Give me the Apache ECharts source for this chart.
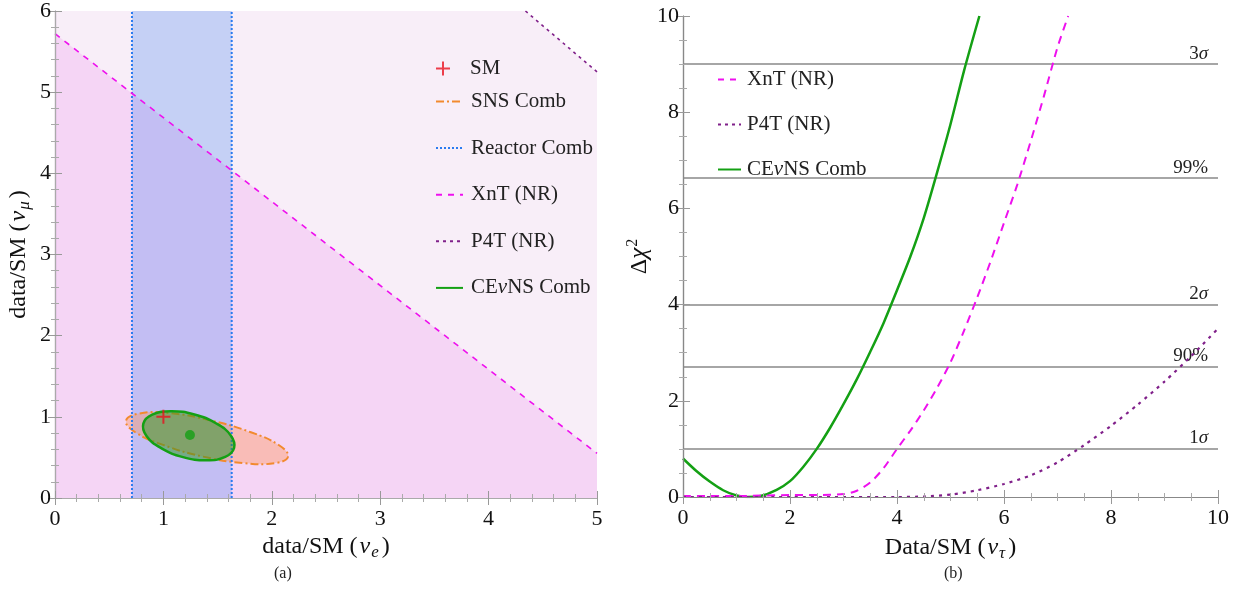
<!DOCTYPE html>
<html>
<head>
<meta charset="utf-8">
<title>CEvNS flavour fits</title>
<script src="https://cdn.jsdelivr.net/npm/echarts@6/dist/echarts.min.js"></script>
<style>
  html, body { margin: 0; padding: 0; background: #fff; }
  #chart { width: 1245px; height: 601px; }
</style>
</head>
<body>
<div id="chart"></div>
<script>
// panel (a): data/SM (nu_e) vs data/SM (nu_mu)
var reactorBand = [0.71, 1.63]
var xntLeft = [[0, 5.72], [5, 0.55]]
var p4tLeft = [[4.34, 6], [5, 5.25]]
var p4tRegion = [[0, 6], [4.34, 6], [5, 5.25]]
var snsContour = [[2.15, 0.51], [2.03, 0.43], [1.745, 0.43], [1.366, 0.51], [0.997, 0.654], [0.737, 0.813],
  [0.655, 0.951], [0.772, 1.04], [1.06, 1.045], [1.438, 0.955], [1.807, 0.81], [2.067, 0.65]]
var cevnsContour = [[1.652, 0.616], [1.57, 0.506], [1.398, 0.464], [1.181, 0.504], [0.979, 0.615], [0.844, 0.765],
  [0.815, 0.917], [0.897, 1.026], [1.069, 1.068], [1.286, 1.029], [1.488, 0.918], [1.623, 0.768]]
var bestFit = [[1.245, 0.776]]
var smPoint = [[1, 1]]

// panel (b): delta chi^2 vs data/SM (nu_tau)
var cevnsTau = [[0, 0.8], [0.25, 0.54], [0.5, 0.32], [0.75, 0.14], [1, 0.03], [1.2, 0], [1.45, 0.02], [1.75, 0.15],
  [2, 0.33], [2.25, 0.63], [2.5, 1.0], [2.75, 1.44], [3, 1.93], [3.25, 2.45], [3.5, 3.02], [3.75, 3.62], [4, 4.3],
  [4.25, 5.0], [4.5, 5.8], [4.75, 6.75], [5, 7.75], [5.25, 8.85], [5.54, 10]]
var xntTau = [[0, 0.02], [1, 0.02], [2, 0.04], [2.5, 0.04], [3, 0.06], [3.25, 0.13], [3.5, 0.3], [3.75, 0.6],
  [4, 1.0], [4.25, 1.38], [4.5, 1.8], [4.75, 2.27], [5, 2.8], [5.25, 3.45], [5.5, 4.15], [5.75, 4.9], [6, 5.7],
  [6.25, 6.5], [6.5, 7.4], [6.75, 8.35], [7, 9.35], [7.2, 10]]
var p4tTau = [[0, 0], [2, 0], [4, 0], [4.5, 0.01], [5, 0.05], [5.5, 0.14], [6, 0.27], [6.5, 0.45], [7, 0.72],
  [7.5, 1.08], [8, 1.48], [8.5, 1.92], [9, 2.4], [9.5, 2.93], [10, 3.5]]
var clLevels = [1, 2.71, 4, 6.63, 9]
var clLabels = ['1σ', '90%', '2σ', '99%', '3σ']

var serif = 'Liberation Serif'
var rich = {
  i: { fontStyle: 'italic', fontFamily: serif, fontSize: 24, color: '#111', padding: [0, 1, 0, 2] },
  s: { fontStyle: 'italic', fontFamily: serif, fontSize: 17, color: '#111', padding: [11, 3, 0, 0] },
  g: { fontFamily: serif, fontSize: 24, color: '#111' },
  c: { fontStyle: 'italic', fontFamily: serif, fontSize: 25, color: '#111' },
  p: { fontFamily: serif, fontSize: 16, color: '#111', padding: [0, 0, 13, 1] }
}

function contour (points, style) {
  return function (params, api) {
    if (params.dataIndex !== 0) return null
    var pts = points.map(function (p) { return api.coord(p) })
    return { type: 'polygon', shape: { points: pts, smooth: 0.45 }, style: style }
  }
}

function axis (grid, pos, min, max, step, minor, lineColor, extra) {
  var a = {
    gridIndex: grid, type: 'value', position: pos, min: min, max: max, interval: step, z: 10,
    axisLine: { show: true, lineStyle: { color: lineColor, width: 1.2 } },
    axisTick: { inside: true, length: 7, lineStyle: { color: '#999' } },
    minorTick: { show: true, splitNumber: minor, length: 4, lineStyle: { color: '#aaa' } },
    splitLine: { show: false },
    axisLabel: { show: false }
  }
  return Object.assign(a, extra || {})
}

function label (margin) {
  return { show: true, color: '#111', fontFamily: serif, fontSize: 22, margin: margin }
}

var nameStyle = { fontFamily: serif, fontSize: 24, color: '#111', rich: rich }
var legendText = { fontFamily: serif, fontSize: 21, color: '#222', rich: { i: { fontStyle: 'italic', fontFamily: serif, fontSize: 21, color: '#222' } } }

var chart = echarts.init(document.getElementById('chart'))
chart.setOption({
  animation: false,
  grid: [
    { left: 55, top: 11, width: 542, height: 487 },
    { left: 683, top: 16, width: 535, height: 481 }
  ],
  xAxis: [
    axis(0, 'bottom', 0, 5, 1, 5, '#b88ac4', {
      axisLabel: label(10),
      name: 'data/SM ({i|ν}{s|e})', nameLocation: 'middle', nameGap: 16, nameTextStyle: nameStyle
    }),
    axis(0, 'top', 0, 5, 1, 5, '#aaa'),
    axis(1, 'bottom', 0, 10, 2, 4, '#888', {
      axisLabel: label(10),
      name: 'Data/SM ({i|ν}{s|τ})', nameLocation: 'middle', nameGap: 37, nameTextStyle: nameStyle
    }),
    axis(1, 'top', 0, 10, 2, 4, '#888')
  ],
  yAxis: [
    axis(0, 'left', 0, 6, 1, 5, '#b88ac4', {
      axisLabel: label(4),
      name: 'data/SM ({i|ν}{s|μ})', nameLocation: 'middle', nameGap: 22, nameTextStyle: nameStyle
    }),
    axis(0, 'right', 0, 6, 1, 5, '#aaa'),
    axis(1, 'left', 0, 10, 2, 4, '#888', {
      axisLabel: label(4),
      name: '{g|Δ}{c|χ}{p|2}', nameLocation: 'middle', nameGap: 29, nameTextStyle: nameStyle
    }),
    axis(1, 'right', 0, 10, 2, 4, '#888')
  ],
  legend: [
    {
      data: ['SM'], orient: 'vertical', left: 431, top: 53, itemWidth: 14, itemHeight: 14,
      selectedMode: false,
      textStyle: Object.assign({ padding: [0, 0, 0, 15] }, legendText)
    },
    {
      data: ['SNS Comb', 'Reactor Comb', 'XnT (NR)', 'P4T (NR)', 'CEνNS Comb'],
      orient: 'vertical', left: 430, top: 86, itemGap: 25.6, itemWidth: 27, itemHeight: 14,
      selectedMode: false, itemStyle: { opacity: 0 },
      formatter: function (n) { return n.replace('ν', '{i|ν}') },
      textStyle: Object.assign({ padding: [0, 0, 0, 3] }, legendText)
    },
    {
      data: ['XnT (NR)', 'P4T (NR)', 'CEνNS Comb'],
      orient: 'vertical', left: 712, top: 64, itemGap: 24, itemWidth: 23, itemHeight: 14,
      selectedMode: false, itemStyle: { opacity: 0 },
      formatter: function (n) { return n.replace('ν', '{i|ν}') },
      textStyle: Object.assign({ padding: [0, 0, 0, 1] }, legendText)
    }
  ],
  graphic: [
    { type: 'text', left: 274, top: 566, style: { text: '(a)', font: '16px "Liberation Serif"', fill: '#222' } },
    { type: 'text', left: 944, top: 566, style: { text: '(b)', font: '16px "Liberation Serif"', fill: '#222' } }
  ],
  series: [
    // fills of panel (a)
    {
      name: 'p4t-fill', type: 'line', xAxisIndex: 0, yAxisIndex: 0, data: p4tRegion, symbol: 'none', z: 1,
      lineStyle: { opacity: 0 }, areaStyle: { color: '#f8eef8', opacity: 1 }, silent: true
    },
    {
      name: 'xnt-fill', type: 'line', xAxisIndex: 0, yAxisIndex: 0, data: xntLeft, symbol: 'none', z: 2,
      lineStyle: { opacity: 0 }, areaStyle: { color: 'rgba(240,165,240,0.33)', opacity: 1 }, silent: true
    },
    {
      name: 'reactor-fill', type: 'line', xAxisIndex: 0, yAxisIndex: 0, z: 3,
      data: [[reactorBand[0], 6], [reactorBand[1], 6]], symbol: 'none',
      lineStyle: { opacity: 0 }, areaStyle: { color: 'rgba(80,140,240,0.3)', opacity: 1 }, silent: true
    },
    {
      name: 'sns-contour', type: 'custom', xAxisIndex: 0, yAxisIndex: 0, data: snsContour, z: 4, silent: true,
      renderItem: contour(snsContour, {
        fill: 'rgba(255,150,90,0.4)', stroke: '#f28a2e', lineWidth: 2, lineDash: [8, 3, 2, 3]
      })
    },
    {
      name: 'SNS Comb', type: 'line', xAxisIndex: 0, yAxisIndex: 0, data: [], symbol: 'none',
      color: '#f28a2e', lineStyle: { color: '#f28a2e', width: 2, type: [8, 3, 2, 3] }
    },
    {
      name: 'Reactor Comb', type: 'line', xAxisIndex: 0, yAxisIndex: 0, z: 5, symbol: 'none',
      data: [[reactorBand[0], 0], [reactorBand[0], 6]],
      color: '#2a7bf0', lineStyle: { color: '#2a7bf0', width: 2, type: [2, 2] }
    },
    {
      name: 'Reactor Comb', type: 'line', xAxisIndex: 0, yAxisIndex: 0, z: 5, symbol: 'none',
      data: [[reactorBand[1], 0], [reactorBand[1], 6]],
      color: '#2a7bf0', lineStyle: { color: '#2a7bf0', width: 2, type: [2, 2] }
    },
    {
      name: 'cevns-contour', type: 'custom', xAxisIndex: 0, yAxisIndex: 0, data: cevnsContour, z: 6, silent: true,
      renderItem: contour(cevnsContour, {
        fill: 'rgba(40,150,30,0.5)', stroke: '#14a014', lineWidth: 2.5
      })
    },
    {
      name: 'XnT (NR)', type: 'line', xAxisIndex: 0, yAxisIndex: 0, data: xntLeft, symbol: 'none', z: 5,
      color: '#ee10ee', lineStyle: { color: '#ee10ee', width: 1.6, type: [6, 6] }
    },
    {
      name: 'P4T (NR)', type: 'line', xAxisIndex: 0, yAxisIndex: 0, data: p4tLeft, symbol: 'none', z: 5,
      color: '#80208a', lineStyle: { color: '#80208a', width: 1.6, type: [3, 4] }
    },
    {
      name: 'best-fit', type: 'scatter', xAxisIndex: 0, yAxisIndex: 0, data: bestFit, z: 7,
      symbol: 'circle', symbolSize: 10, itemStyle: { color: '#14a014' }
    },
    {
      name: 'SM', type: 'scatter', xAxisIndex: 0, yAxisIndex: 0, data: smPoint, z: 8,
      symbol: 'path://M6,0h2v6h6v2h-6v6h-2v-6h-6v-2h6z', symbolSize: 14, itemStyle: { color: '#e8101e' }
    },
    // panel (b)
    {
      name: 'CEνNS Comb', type: 'line', xAxisIndex: 2, yAxisIndex: 2, data: cevnsTau, symbol: 'none',
      smooth: 0.3, color: '#14a014', lineStyle: { color: '#14a014', width: 2.5 }, z: 5,
      markLine: {
        silent: true, symbol: 'none',
        lineStyle: { color: '#888', type: 'solid', width: 1.5 },
        label: {
          position: 'insideEndTop', distance: [10, 1], fontFamily: serif, fontSize: 19, color: '#222',
          rich: { i: { fontStyle: 'italic', fontFamily: serif, fontSize: 19, color: '#222' } },
          formatter: function (p) { return p.name.replace('σ', '{i|σ}') }
        },
        data: clLevels.map(function (v, k) { return { yAxis: v, name: clLabels[k] } })
      }
    },
    {
      name: 'XnT (NR)', type: 'line', xAxisIndex: 2, yAxisIndex: 2, data: xntTau, symbol: 'none',
      smooth: 0.25, color: '#ee10ee', lineStyle: { color: '#ee10ee', width: 2, type: [8, 6] }, z: 5
    },
    {
      name: 'P4T (NR)', type: 'line', xAxisIndex: 2, yAxisIndex: 2, data: p4tTau, symbol: 'none',
      smooth: 0.25, color: '#80208a', lineStyle: { color: '#80208a', width: 2.2, type: [3, 5] }, z: 5
    }
  ]
})
</script>
</body>
</html>
